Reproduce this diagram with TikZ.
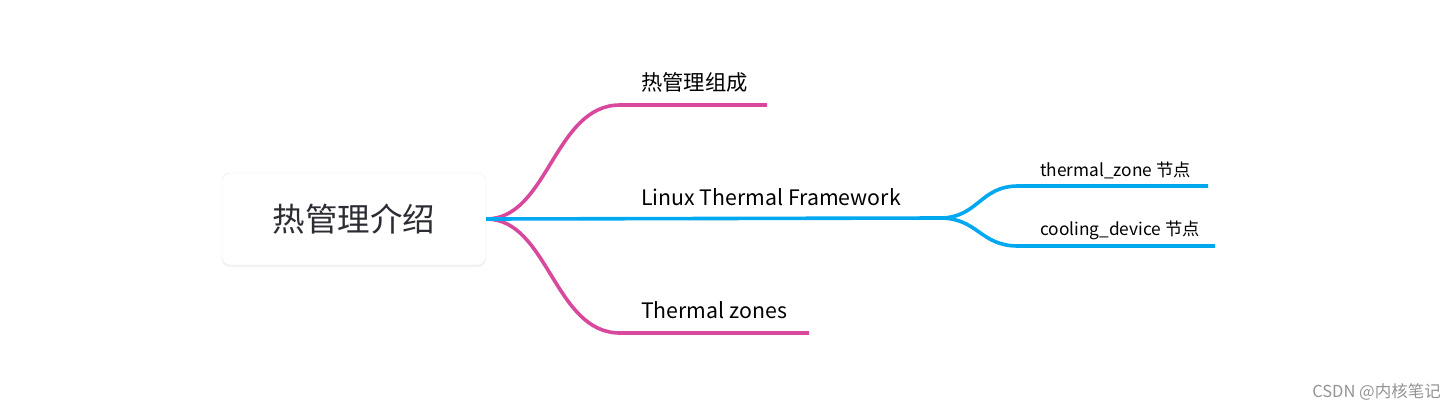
\documentclass[tikz,border=0pt]{standalone}
\usepackage{fontspec}
\setmainfont{Noto Sans CJK SC}
\usetikzlibrary{shadows}

\definecolor{pinkline}{RGB}{216,72,156}
\definecolor{blueline}{RGB}{0,168,240}
\definecolor{roottext}{RGB}{44,44,52}

\begin{document}
\begin{tikzpicture}[x=1pt,y=-1pt,
	rootbox/.style={draw=black!7, fill=white, rounded corners=8pt, minimum width=264pt, minimum height=92pt, font=\fontsize{32.5}{38}\selectfont, text=roottext, drop shadow={opacity=0.10, shadow xshift=0pt, shadow yshift=-2pt}},
	topic/.style={anchor=base west, inner sep=0pt, font=\fontsize{21.3}{25}\selectfont},
	subtopic/.style={anchor=base west, inner sep=0pt, font=\fontsize{17.3}{20}\selectfont},
	pinkedge/.style={draw=pinkline, line width=3.6pt},
	blueedge/.style={draw=blueline, line width=3.6pt}]
			\useasboundingbox (0,0) rectangle (1456,410);
			\node[rootbox] (root) at (354,219) {热管理介绍};
			
			\node[topic] (parts) at (641,90) {热管理组成};
			\node[topic] (linux) at (641,205) {Linux Thermal Framework};
			\node[topic] (zones) at (641,318) {Thermal zones};
			\node[subtopic] (tz) at (1040,176) {thermal\_zone 节点};
			\node[subtopic] (cdev) at (1040,235) {cooling\_device 节点};
			\node[anchor=base east, inner sep=0pt, text=black!42, font=\fontsize{16.5}{18}\selectfont] (mark) at (1441,397) {CSDN @内核笔记};
			
			\coordinate (partsA) at (620,105);
			\coordinate (partsB) at (767,105);
			\coordinate (linuxB) at (940,218);
			\coordinate (zonesA) at (620,333);
			\coordinate (zonesB) at (809,333);
			\coordinate (tzA) at (1018,186);
			\coordinate (tzB) at (1208,186);
			\coordinate (cdevA) at (1018,246);
			\coordinate (cdevB) at (1215,246);
			
			\draw[pinkedge] (root.east) .. controls +(62,0) and +(-66,0) .. (partsA) -- (partsB);
			\draw[pinkedge] (root.east) .. controls +(62,0) and +(-66,0) .. (zonesA) -- (zonesB);
			\draw[blueedge] (root.east) -- (linuxB);
			\draw[blueedge] (linuxB) .. controls +(38,0) and +(-38,0) .. (tzA) -- (tzB);
			\draw[blueedge] (linuxB) .. controls +(38,0) and +(-38,0) .. (cdevA) -- (cdevB);
			
\end{tikzpicture}
\end{document}
